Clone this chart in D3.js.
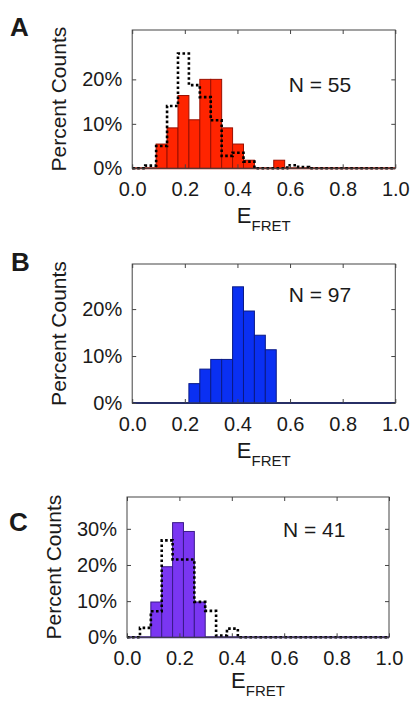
<!DOCTYPE html>
<html>
<head>
<meta charset="utf-8">
<script src="https://cdn.jsdelivr.net/npm/d3@7"></script>
<style>
  body { margin: 0; background: #fff; }
  svg { display: block; }
  text { font-family: "Liberation Sans", Arial, sans-serif; fill: #1a1a1a; }
</style>
</head>
<body>
<svg id="fig" width="412" height="702"></svg>
<script>
// ---- E_FRET histogram data -------------------------------------------------
// Left edges of the histogram bins (E_FRET) and event counts per bin.
const barLeftA = [0.091, 0.1325, 0.174, 0.2155, 0.257, 0.2985, 0.34, 0.3815, 0.423, 0.538];
const countsA  = [3, 5, 9, 6, 11, 11, 5, 3, 1, 1];
const totalA   = 55;

const barLeftB = [0.2155, 0.257, 0.2985, 0.34, 0.3815, 0.423, 0.4645, 0.506];
const countsB  = [4, 7, 9, 9, 24, 19, 14, 11];
const totalB   = 97;

const barLeftC = [0.091, 0.1325, 0.174, 0.2155, 0.257];
const countsC  = [4, 8, 13, 12, 4];
const totalC   = 41;

const binWidth = 0.0415;

// Reference distributions (dotted step lines), percent per bin.
const refLeft = [0, 0.0495, 0.091, 0.1325, 0.174, 0.2155, 0.257, 0.2985, 0.34,
                 0.3815, 0.423, 0.4645, 0.506, 0.5475, 0.589, 0.6305, 0.672];
const refA = [0, 0.6, 5.0, 14.0, 25.8, 18.7, 16.0, 10.8, 2.8, 3.5, 1.5, 0, 0, 0, 0.7, 0.3, 0];
const refC = [0, 2.6, 7.2, 26.8, 21.5, 21.5, 9.8, 7.3, 0.5, 2.4, 0, 0, 0, 0, 0, 0, 0];

// Axis ticks
const xTicks  = [0, 0.2, 0.4, 0.6, 0.8, 1.0];
const yTicksA = [0, 0.1, 0.2];
const yTicksB = [0, 0.1, 0.2];
const yTicksC = [0, 0.1, 0.2, 0.3];

// ---- drawing ----------------------------------------------------------------
const svg = d3.select("#fig");

function toBars(lefts, counts, total) {
  return lefts.map((x0, i) => ({ x0, x1: x0 + binWidth, p: counts[i] / total }));
}
function toSteps(lefts, vals) {
  const pts = lefts.map((x, i) => ({ x, p: vals[i] / 100 }));
  pts.push({ x: 1.0, p: vals[vals.length - 1] / 100 });
  return pts;
}

function panel(cfg) {
  const { left, right, top, bottom, yMax } = cfg;
  const x = d3.scaleLinear().domain([0, 1]).range([left, right]);
  const y = d3.scaleLinear().domain([0, yMax]).range([bottom, top]);
  const g = svg.append("g");

  // zero-count baseline of the histogram
  g.append("line")
    .attr("x1", x(0)).attr("x2", x(1))
    .attr("y1", y(0)).attr("y2", y(0))
    .attr("stroke", cfg.edge).attr("stroke-width", 2);

  // bars
  g.append("g").selectAll("rect")
    .data(cfg.bars)
    .join("rect")
    .attr("x", d => x(d.x0))
    .attr("width", d => x(d.x1) - x(d.x0))
    .attr("y", d => y(d.p))
    .attr("height", d => y(0) - y(d.p))
    .attr("fill", cfg.fill)
    .attr("stroke", cfg.edge)
    .attr("stroke-width", 1);

  // reference distribution
  if (cfg.ref) {
    g.append("path")
      .datum(cfg.ref)
      .attr("d", d3.line().x(d => x(d.x)).y(d => y(d.p)).curve(d3.curveStepAfter))
      .attr("fill", "none")
      .attr("stroke", "#000")
      .attr("stroke-width", 2.6)
      .attr("stroke-dasharray", "2.6 2.4");
  }

  const fmtX = d3.format(".1f");
  const fmtY = d3.format(".0%");

  // bottom axis
  const ax = g.append("g").attr("transform", `translate(0,${bottom})`)
    .call(d3.axisBottom(x).tickValues(xTicks).tickFormat(fmtX)
      .tickSizeInner(-4).tickSizeOuter(0).tickPadding(14));
  // left axis
  const ay = g.append("g").attr("transform", `translate(${left},0)`)
    .call(d3.axisLeft(y).tickValues(cfg.yTicks).tickFormat(fmtY)
      .tickSizeInner(-4).tickSizeOuter(0).tickPadding(10));
  // mirrored ticks on top and right
  const at = g.append("g").attr("transform", `translate(0,${top})`)
    .call(d3.axisTop(x).tickValues(xTicks).tickFormat("")
      .tickSizeInner(-4).tickSizeOuter(0));
  const ar = g.append("g").attr("transform", `translate(${right},0)`)
    .call(d3.axisRight(y).tickValues(cfg.yTicks).tickFormat("")
      .tickSizeInner(-4).tickSizeOuter(0));
  [ax, ay, at, ar].forEach(a => {
    a.select(".domain").remove();
    a.selectAll(".tick line").attr("stroke", "#444");
    a.selectAll("text").attr("font-size", 20)
      .attr("font-family", '"Liberation Sans", Arial, sans-serif')
      .attr("fill", "#1a1a1a");
  });

  // frame
  g.append("rect")
    .attr("x", left).attr("y", top)
    .attr("width", right - left).attr("height", bottom - top)
    .attr("fill", "none").attr("stroke", "#444").attr("stroke-width", 1);

  // sample size
  g.append("text")
    .attr("x", x(0.595)).attr("y", top + cfg.nDy)
    .attr("font-size", 21)
    .text(`N = ${cfg.total}`);

  // x label: E with subscript FRET
  const xl = g.append("text")
    .attr("x", (left + right) / 2).attr("y", bottom + cfg.xLabelDy)
    .attr("text-anchor", "middle");
  xl.append("tspan").attr("font-size", 22).text("E");
  xl.append("tspan").attr("font-size", 15).attr("dy", 8).text("FRET");

  // y label
  g.append("text")
    .attr("transform", `translate(${cfg.yLabelX},${(top + bottom) / 2}) rotate(-90)`)
    .attr("text-anchor", "middle")
    .attr("font-size", 21)
    .text("Percent Counts");

  // panel letter
  g.append("text")
    .attr("x", cfg.letterX).attr("y", cfg.letterY)
    .attr("font-size", 26).attr("font-weight", "bold").attr("fill", "#000")
    .text(cfg.letter);
}

panel({
  letter: "A", letterX: 10, letterY: 36,
  left: 132.2, right: 395.3, top: 30, bottom: 168.3, yMax: 0.311,
  yTicks: yTicksA, bars: toBars(barLeftA, countsA, totalA), total: totalA,
  ref: toSteps(refLeft, refA),
  fill: "#ff2400", edge: "#9a0f00", nDy: 62, yLabelX: 66, xLabelDy: 55
});

panel({
  letter: "B", letterX: 11, letterY: 271,
  left: 132.2, right: 395.3, top: 264, bottom: 403, yMax: 0.296,
  yTicks: yTicksB, bars: toBars(barLeftB, countsB, totalB), total: totalB,
  ref: null,
  fill: "#0a30f2", edge: "#0a1a86", nDy: 38, yLabelX: 66, xLabelDy: 55
});

panel({
  letter: "C", letterX: 9, letterY: 531,
  left: 127, right: 389, top: 497, bottom: 637.3, yMax: 0.388,
  yTicks: yTicksC, bars: toBars(barLeftC, countsC, totalC), total: totalC,
  ref: toSteps(refLeft, refC),
  fill: "#7a36f2", edge: "#3a1a8a", nDy: 40, yLabelX: 61, xLabelDy: 51
});
</script>
</body>
</html>
